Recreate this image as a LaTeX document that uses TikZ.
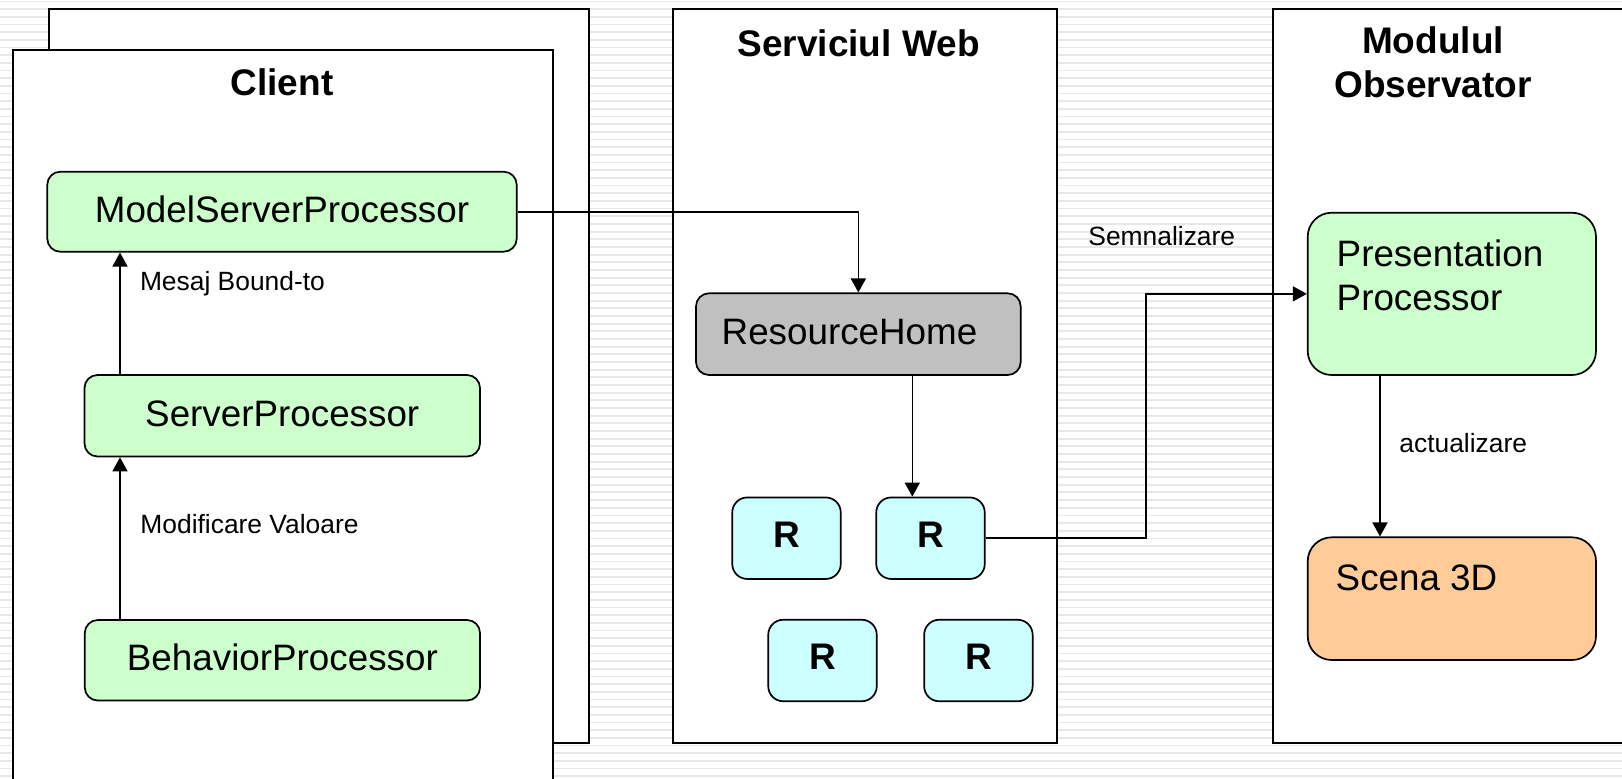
\documentclass[tikz,border=0pt]{standalone}
\usepackage{fontspec}
\setmainfont{Liberation Sans}
\usetikzlibrary{arrows.meta,calc}

\definecolor{boxgreen}{HTML}{CCFFCC}
\definecolor{boxcyan}{HTML}{CCFFFF}
\definecolor{boxgray}{HTML}{C0C0C0}
\definecolor{boxorange}{HTML}{FFCC99}
\definecolor{stripegray}{HTML}{E8E8E8}

\begin{document}
\begin{tikzpicture}[x=0.5pt,y=-0.5pt,
  panel/.style={draw=black,fill=white,line width=0.9pt,inner sep=0pt,anchor=north west},
  procbox/.style={draw=black,line width=0.85pt,rounded corners=6.5pt,inner sep=0pt,font=\fontsize{18.4}{22}\selectfont,text height=10.3pt,text depth=0pt},
  greenbox/.style={procbox,fill=boxgreen},
  rbox/.style={procbox,fill=boxcyan,rounded corners=7.5pt,minimum width=54.25pt,minimum height=40.75pt,font=\fontsize{18.5}{22}\selectfont\bfseries,text height=9.3pt},
  bigbox/.style={procbox,rounded corners=12pt,minimum width=144.15pt},
  title/.style={font=\fontsize{18.5}{22}\selectfont\bfseries,inner sep=0pt},
  lbl/.style={font=\fontsize{13.2}{16}\selectfont,inner sep=0pt,anchor=base west},
  conn/.style={draw=black,line width=0.8pt},
  arr/.style={conn,-{Triangle[length=7pt,width=7.5pt]}},
  stripe/.style={draw=stripegray,line width=0.9pt}
]
\useasboundingbox (0,0) rectangle (1622,778);
\clip (0,0) rectangle (1622,778);
\fill[white] (0,0) rectangle (1622,778);
\foreach \i in {0,...,101} \draw[stripe] (0,{1.5+7.67*\i}) -- (1622,{1.5+7.67*\i});

% panels
\node[panel,minimum width=269.85pt,minimum height=366.7pt] (clientback) at (48.3,8.3) {};
\node[panel,minimum width=269.85pt,minimum height=375.5pt] (client) at (12.3,49) {};
\node[panel,minimum width=192pt,minimum height=366.7pt] (web) at (672,8.3) {};
\node[panel,minimum width=194.15pt,minimum height=366.7pt] (obs) at (1271.7,8.3) {};

% titles
\node[title,anchor=base] (tclient) at (282,95) {Client};
\node[title,anchor=base] (tweb) at (858.6,56) {Serviciul Web};
\node[title,anchor=north,align=center] (tobs) at (1433,26) {Modulul\\Observator};

% client processors
\node[greenbox,minimum width=234.7pt,minimum height=40pt] (msp) at (282,211.7) {ModelServerProcessor};
\node[greenbox,minimum width=197.75pt,minimum height=40.75pt] (sp) at (282.25,415.75) {ServerProcessor};
\node[greenbox,minimum width=197.6pt,minimum height=40.25pt] (bp) at (282.4,660.25) {BehaviorProcessor};

% web service
\node[procbox,fill=boxgray,minimum width=162.35pt,minimum height=40.85pt,inner xsep=12.85pt] (rh) at (858.35,334.15) {\makebox[136.65pt][l]{ResourceHome}};
\node[rbox] (r1) at (786.5,538.2) {R};
\node[rbox] (r2) at (930.5,538.2) {R};
\node[rbox] (r3) at (822.5,660.5) {R};
\node[rbox] (r4) at (978.4,660.5) {R};

% observer
\node[bigbox,fill=boxgreen,minimum height=81.15pt,inner xsep=14.5pt,text height=35.5pt,text depth=19.35pt] (pp) at (1451.85,293.85) {\parbox[b]{115.15pt}{\raggedright Presentation\\Processor}};
\node[bigbox,fill=boxorange,minimum height=61.35pt,inner xsep=14pt,text height=13.5pt,text depth=22.15pt] (sc) at (1451.85,598.65) {\makebox[116.15pt][l]{Scena 3D}};

% labels
\node[lbl] (lmesaj) at (139.6,290) {Mesaj Bound-to};
\node[lbl] (lmod) at (140,533.5) {Modificare Valoare};
\node[lbl] (lsem) at (1088,245.5) {Semnalizare};
\node[lbl] (lact) at (1399,452.5) {actualizare};

% connectors
\coordinate (cx) at (120,0);
\coordinate (r2in) at (912.3,0);
\coordinate (sigx) at (1146,0);
\coordinate (scx) at (1380,0);
\draw[arr] (cx |- sp.north) -- (cx |- msp.south);
\draw[arr] (cx |- bp.north) -- (cx |- sp.south);
\draw[arr] (msp.east) -| (rh.north);
\draw[arr] (r2in |- rh.south) -- (r2in |- r2.north);
\draw[arr] (r2.east) -| (sigx |- pp.west) -- (pp.west);
\draw[arr] (scx |- pp.south) -- (scx |- sc.north);
\end{tikzpicture}
\end{document}
